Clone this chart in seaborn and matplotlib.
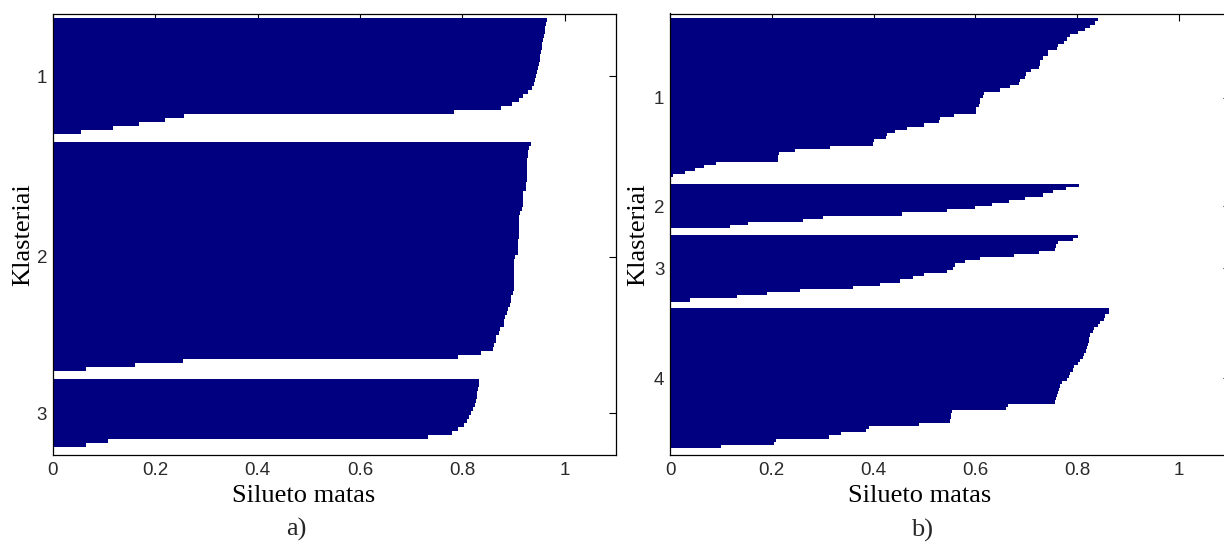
import numpy as np
import pandas as pd
import matplotlib
matplotlib.use("Agg")
import matplotlib.pyplot as plt
from matplotlib import font_manager
import seaborn as sns

# ---- silhouette values, one list per cluster, sorted high to low ----
# panel a) : three clusters
sil_a1 = [0.965, 0.963, 0.962, 0.961, 0.960, 0.958, 0.956, 0.955, 0.953, 0.952,
          0.951, 0.950, 0.948, 0.946, 0.944, 0.942, 0.939, 0.935, 0.928, 0.918,
          0.910, 0.897, 0.876, 0.783, 0.256, 0.219, 0.168, 0.118, 0.055]
sil_a2 = [0.934, 0.931, 0.928, 0.928, 0.927, 0.927, 0.927, 0.926, 0.926, 0.926,
          0.925, 0.925, 0.919, 0.918, 0.918, 0.918, 0.917, 0.912, 0.911, 0.911,
          0.910, 0.910, 0.910, 0.910, 0.909, 0.909, 0.909, 0.908, 0.902, 0.901,
          0.901, 0.901, 0.901, 0.900, 0.900, 0.900, 0.900, 0.899, 0.895, 0.894,
          0.893, 0.889, 0.888, 0.883, 0.882, 0.881, 0.873, 0.872, 0.866, 0.865,
          0.861, 0.860, 0.836, 0.792, 0.254, 0.161, 0.065]
sil_a3 = [0.833, 0.832, 0.831, 0.829, 0.828, 0.826, 0.824, 0.821, 0.817, 0.813,
          0.810, 0.803, 0.792, 0.779, 0.733, 0.108, 0.065]

# panel b) : four clusters
sil_b1 = [0.841, 0.835, 0.825, 0.815, 0.802, 0.786, 0.780, 0.773, 0.763, 0.760,
          0.743, 0.742, 0.733, 0.727, 0.726, 0.725, 0.710, 0.700, 0.698, 0.688,
          0.686, 0.668, 0.648, 0.616, 0.614, 0.609, 0.608, 0.607, 0.602, 0.601,
          0.557, 0.530, 0.528, 0.498, 0.465, 0.442, 0.426, 0.424, 0.400, 0.398,
          0.315, 0.245, 0.215, 0.213, 0.212, 0.090, 0.067, 0.050, 0.030, 0.006]
sil_b2 = [0.804, 0.778, 0.753, 0.733, 0.697, 0.665, 0.632, 0.599, 0.544, 0.455,
          0.301, 0.262, 0.154, 0.118]
sil_b3 = [0.802, 0.792, 0.762, 0.758, 0.756, 0.724, 0.675, 0.609, 0.580, 0.560,
          0.555, 0.544, 0.498, 0.478, 0.452, 0.413, 0.360, 0.255, 0.190, 0.131,
          0.040]
sil_b4 = [0.863, 0.862, 0.855, 0.852, 0.844, 0.840, 0.832, 0.830, 0.825, 0.824,
          0.823, 0.822, 0.820, 0.817, 0.814, 0.811, 0.805, 0.802, 0.794, 0.792,
          0.786, 0.783, 0.780, 0.770, 0.767, 0.764, 0.762, 0.760, 0.759, 0.757,
          0.663, 0.660, 0.553, 0.552, 0.551, 0.550, 0.490, 0.390, 0.385, 0.336,
          0.313, 0.209, 0.205, 0.100]

cluster_names_a = ["1", "2", "3"]
cluster_names_b = ["1", "2", "3", "4"]
x_ticks = [0, 0.2, 0.4, 0.6, 0.8, 1]
x_tick_labels = ["0", "0.2", "0.4", "0.6", "0.8", "1"]
x_label = "Silueto matas"
y_label = "Klasteriai"
panel_tags = ["a)", "b)"]

NAVY = "#000080"
GAP_ROWS = 2          # empty rows between clusters


def pick_font(candidates):
    for fam in candidates:
        try:
            font_manager.findfont(fam, fallback_to_default=False)
            return fam
        except ValueError:
            continue
    return "DejaVu Sans"


TICK_FONT = pick_font(["Liberation Sans Narrow", "Liberation Sans", "DejaVu Sans"])
SERIF_FONT = pick_font(["Liberation Serif", "DejaVu Serif"])


def silhouette_frame(clusters, names):
    """One row per observation; clusters stacked top to bottom with gaps."""
    rows, values, labels, centers = [], [], [], []
    pos = 1
    for name, vals in zip(names, clusters):
        n = len(vals)
        rows.extend(range(pos, pos + n))
        values.extend(vals)
        labels.extend([name] * n)
        centers.append(pos + (n - 1) / 2)
        pos += n + GAP_ROWS
    last_row = pos - GAP_ROWS - 1
    df = pd.DataFrame({"row": rows, "value": values, "cluster": labels})
    return df, centers, last_row


def draw_panel(ax, clusters, names, pad_top, pad_bottom, ylab_x):
    df, centers, last_row = silhouette_frame(clusters, names)
    sns.barplot(data=df, x="value", y="row", orient="h", native_scale=True,
                width=1.0, color=NAVY, saturation=1, errorbar=None,
                linewidth=0, edgecolor=NAVY, ax=ax)
    ax.set_xlim(0, 1.1)
    ax.set_ylim(last_row + 0.5 + pad_bottom, 0.5 - pad_top)
    ax.set_xticks(x_ticks)
    ax.set_xticklabels(x_tick_labels, fontfamily=TICK_FONT, fontsize=13.5,
                       color="#2a2a2a")
    ax.set_yticks(centers)
    ax.set_yticklabels(names, fontfamily=TICK_FONT, fontsize=13.5,
                       color="#2a2a2a")
    ax.tick_params(axis="both", direction="in", length=5, width=0.8,
                   top=True, right=True, labeltop=False, labelright=False,
                   color="black")
    ax.tick_params(axis="x", pad=5)
    ax.tick_params(axis="y", pad=4)
    for sp in ax.spines.values():
        sp.set_visible(True)
        sp.set_color("black")
        sp.set_linewidth(0.9)
    ax.set_facecolor("white")
    ax.grid(False)

    ax.set_xlabel(x_label, fontfamily=SERIF_FONT, fontsize=19, color="black")
    ax.xaxis.set_label_coords(0.445, -0.068)
    ax.set_ylabel(y_label, fontfamily=SERIF_FONT, fontsize=19, color="black")
    ax.yaxis.set_label_coords(ylab_x, 0.5)
    ax.yaxis.label.set_va("center")


sns.set_style("white")
plt.rcParams["font.family"] = ["DejaVu Sans"]

W, H = 1224, 544
fig = plt.figure(figsize=(W / 100, H / 100), dpi=100)
fig.patch.set_facecolor("white")

top_px, bottom_px = 13.5, 455.0
ax_a = fig.add_axes([52.7 / W, 1 - bottom_px / H, (616 - 52.7) / W,
                     (bottom_px - top_px) / H])
ax_b = fig.add_axes([670 / W, 1 - bottom_px / H, (1230 - 670) / W,
                     (bottom_px - top_px) / H])

draw_panel(ax_a, [sil_a1, sil_a2, sil_a3], cluster_names_a,
           pad_top=1.12, pad_bottom=1.92, ylab_x=-0.053)
draw_panel(ax_b, [sil_b1, sil_b2, sil_b3, sil_b4], cluster_names_b,
           pad_top=1.5, pad_bottom=2.17, ylab_x=-0.057)

fig.text(296 / W, 1 - 529 / H, panel_tags[0], fontfamily=SERIF_FONT,
         fontsize=19, ha="center", va="center")
fig.text(922 / W, 1 - 530 / H, panel_tags[1], fontfamily=SERIF_FONT,
         fontsize=19, ha="center", va="center")

fig.savefig("out.png", dpi=100, facecolor="white")
